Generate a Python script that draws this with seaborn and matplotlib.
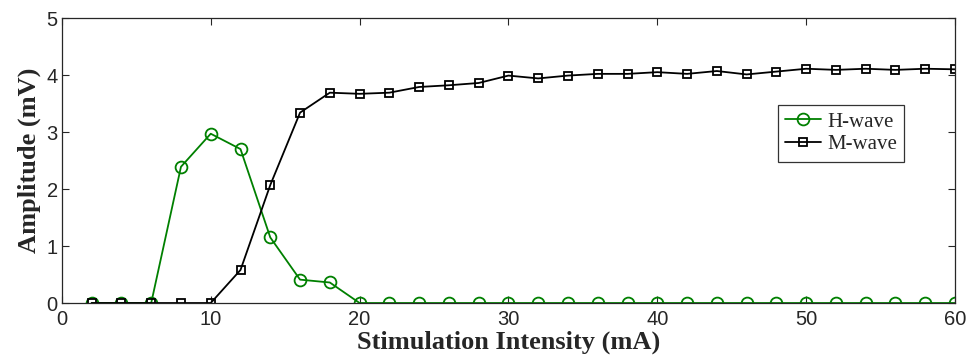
import numpy as np
import pandas as pd
import matplotlib
matplotlib.use('Agg')
import matplotlib.pyplot as plt
import seaborn as sns

intensity = list(range(2, 61, 2))
h_wave = [0, 0, 0, 2.39, 2.97, 2.70, 1.15, 0.41, 0.36, 0,
          0, 0, 0, 0, 0, 0, 0, 0, 0, 0,
          0, 0, 0, 0, 0, 0, 0, 0, 0, 0]
m_wave = [0, 0, 0, 0, 0, 0.58, 2.07, 3.34, 3.69, 3.67,
          3.69, 3.79, 3.82, 3.86, 3.99, 3.94, 3.99, 4.02, 4.02, 4.05,
          4.02, 4.07, 4.01, 4.06, 4.11, 4.09, 4.11, 4.09, 4.11, 4.10]

df = pd.DataFrame({'Intensity': intensity, 'H-wave': h_wave, 'M-wave': m_wave})

sns.set_style('ticks')
plt.rcParams['font.family'] = ['Liberation Sans', 'DejaVu Sans']

fig = plt.figure(figsize=(9.67, 3.58), dpi=100)
ax = fig.add_axes([0.064, 0.1536, 0.9236, 0.7961])

sns.lineplot(data=df, x='Intensity', y='H-wave', ax=ax, color='#008000',
             marker='o', markersize=8.5, markerfacecolor='none',
             markeredgecolor='#008000', markeredgewidth=1.3, linewidth=1.3,
             label='H-wave')
sns.lineplot(data=df, x='Intensity', y='M-wave', ax=ax, color='black',
             marker='s', markersize=5.5, markerfacecolor='none',
             markeredgecolor='black', markeredgewidth=1.3, linewidth=1.3,
             label='M-wave')

ax.set_xlim(0, 60)
ax.set_ylim(0, 5)
ax.set_xticks(range(0, 61, 10))
ax.set_yticks(range(0, 6))
ax.tick_params(direction='in', top=True, right=True, labelsize=14.5,
               length=5, width=0.8)
ax.tick_params(axis='x', pad=5)
ax.tick_params(axis='y', pad=3)
for s in ax.spines.values():
    s.set_visible(True)
    s.set_linewidth(0.9)

ax.set_xlabel('Stimulation Intensity (mA)', fontsize=19, fontweight='bold',
              family='Liberation Serif', labelpad=1)
ax.set_ylabel('Amplitude (mV)', fontsize=19, fontweight='bold',
              family='Liberation Serif', labelpad=4)

leg = ax.legend(loc='upper right', bbox_to_anchor=(0.943, 0.696),
                prop={'family': 'Liberation Serif', 'size': 15},
                frameon=True, fancybox=False, edgecolor='black',
                handlelength=1.7, borderpad=0.35, labelspacing=0.15,
                handletextpad=0.3, borderaxespad=0)
leg.get_frame().set_linewidth(0.9)

fig.savefig('out.png', dpi=100)
